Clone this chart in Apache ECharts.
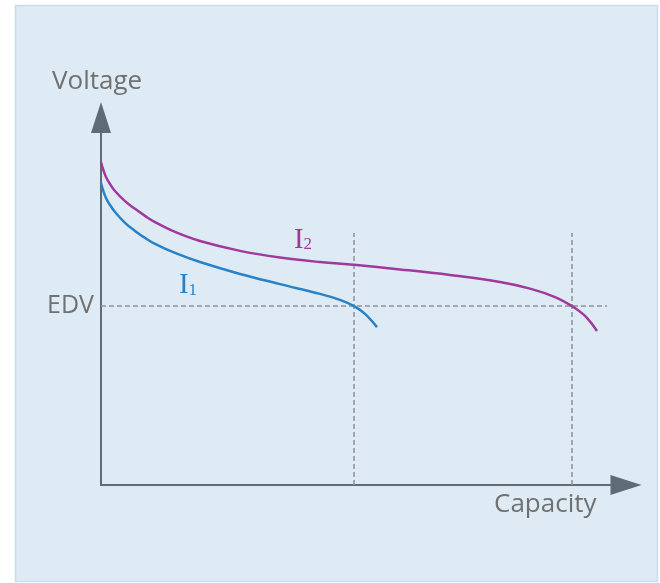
<!DOCTYPE html>
<html>
<head>
<meta charset="utf-8">
<script src="https://cdn.jsdelivr.net/npm/echarts@6/dist/echarts.min.js"></script>
<style>
html,body{margin:0;padding:0;background:#ffffff;}
#c{width:660px;height:583px;}
</style>
</head>
<body>
<div id="c"></div>
<script>
// Capacity (x) and Voltage (y) in arbitrary units
var i2Capacity = [0, 0.4, 1.0, 1.8, 2.8, 4.8, 6.8, 8.8, 10.8, 14.8, 19.8, 27.8, 35.8, 43.8, 50.6, 59.8, 69.8, 79.8, 85.8, 90.8, 94.2, 96.8, 99.2];
var i2Voltage  = [92.3, 90.3, 88.0, 86.0, 84.0, 81.1, 78.9, 76.9, 75.1, 72.3, 69.7, 66.9, 65.0, 63.7, 62.9, 61.6, 60.0, 58.0, 56.1, 53.7, 51.1, 48.3, 44.0];
var i1Capacity = [0, 0.4, 1.0, 1.8, 2.8, 4.8, 6.8, 8.8, 10.8, 14.8, 19.8, 27.8, 35.8, 43.8, 47.8, 50.6, 52.8, 55.2];
var i1Voltage  = [86.3, 84.3, 82.0, 80.0, 78.0, 74.9, 72.6, 70.6, 68.9, 66.3, 63.7, 60.3, 57.4, 54.6, 52.9, 51.1, 48.9, 45.1];
var edv = 51.1;            // end-of-discharge voltage
var edvLineEnd = 101.2;    // extent of the EDV guide line
var capI1 = 50.6, capI2 = 94.2; // capacities reached at EDV
var guideTop = 72;         // top of the vertical guides
var xMax = 105, yMax = 105;
var labelI2 = [40.4, 70.0], labelI1 = [17.4, 57.1];
var axisTitles = ['Voltage', 'Capacity'];

function pairs(xs, ys){ return xs.map(function(x,i){ return [x, ys[i]]; }); }

var textColor = '#707070';
var axisColor = '#5d6c75';
var sans = '"Open Sans", "Noto Sans", sans-serif';
var serif = '"Liberation Serif", "DejaVu Serif", serif';

var chart = echarts.init(document.getElementById('c'), null, {renderer:'canvas'});
chart.setOption({
  animation: false,
  backgroundColor: '#ffffff',
  graphic: [
    {type:'rect', z:-10, shape:{x:15.5, y:5.5, width:642, height:576},
     style:{fill:'#deebf5', stroke:'#c6ddee', lineWidth:1.5}},
    {type:'text', left:52, top:69, z:10,
     style:{text:axisTitles[0], font:'26px ' + sans, fill:textColor}},
    {type:'text', left:494, top:492, z:10,
     style:{text:axisTitles[1], font:'26px ' + sans, fill:textColor}}
  ],
  grid: {left:101, top:117.5, width:525, height:367.5, containLabel:false},
  xAxis: {
    type:'value', min:0, max:xMax,
    axisLine:{show:true, symbol:['none','triangle'], symbolSize:[20,31],
      lineStyle:{color:axisColor, width:2}},
    axisTick:{show:false}, axisLabel:{show:false}, splitLine:{show:false}
  },
  yAxis: {
    type:'value', min:0, max:yMax,
    axisLine:{show:true, symbol:['none','triangle'], symbolSize:[20,31],
      lineStyle:{color:axisColor, width:2}},
    axisTick:{show:false}, axisLabel:{show:false}, splitLine:{show:false}
  },
  series: [
    {
      name:'I2', type:'line', smooth:0.4, showSymbol:false, z:3,
      data: pairs(i2Capacity, i2Voltage),
      lineStyle:{color:'#a0399c', width:2.5},
      itemStyle:{color:'#a0399c'},
      markLine:{
        silent:true, symbol:['none','none'], z:1,
        lineStyle:{type:[5,3], color:'#8c9196', width:1.5},
        label:{show:false},
        data:[
          [{coord:[0, edv], label:{show:true, position:'start', formatter:'EDV', distance:7,
              fontSize:25, fontFamily:sans, color:textColor}},
           {coord:[edvLineEnd, edv]}],
          [{coord:[capI1, 0]}, {coord:[capI1, guideTop]}],
          [{coord:[capI2, 0]}, {coord:[capI2, guideTop]}]
        ]
      },
      markPoint:{
        silent:true, symbol:'circle', symbolSize:0,
        data:[{coord:labelI2}],
        label:{show:true, position:'inside', formatter:'{a|I}{b|2}',
          rich:{a:{fontFamily:serif, fontSize:29, color:'#a0399c'},
                b:{fontFamily:serif, fontSize:17, color:'#a0399c', padding:[10,0,0,0]}}}
      }
    },
    {
      name:'I1', type:'line', smooth:0.4, showSymbol:false, z:3,
      data: pairs(i1Capacity, i1Voltage),
      lineStyle:{color:'#2a82c6', width:2.5},
      itemStyle:{color:'#2a82c6'},
      markPoint:{
        silent:true, symbol:'circle', symbolSize:0,
        data:[{coord:labelI1}],
        label:{show:true, position:'inside', formatter:'{a|I}{b|1}',
          rich:{a:{fontFamily:serif, fontSize:29, color:'#2a82c6'},
                b:{fontFamily:serif, fontSize:17, color:'#2a82c6', padding:[10,0,0,0]}}}
      }
    }
  ]
});
</script>
</body>
</html>
